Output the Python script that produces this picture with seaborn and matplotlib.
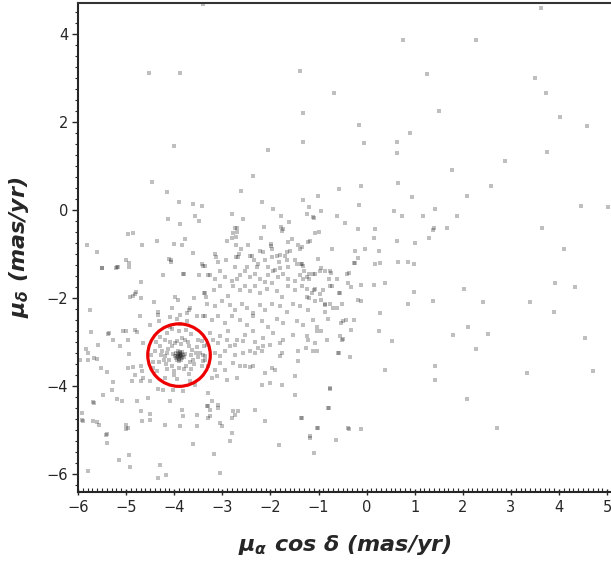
import matplotlib
matplotlib.use("Agg")
import matplotlib.pyplot as plt
from matplotlib.patches import Ellipse
from matplotlib.ticker import MultipleLocator
import seaborn as sns
import pandas as pd

# ---- data: proper motions (mas/yr) ----
# sparse field stars
sparse_ra = [-3.40,-4.52,-3.87,-1.38,-1.32,-1.32,-4.00,-2.05,-2.36,-4.46,-2.61,-4.15,-3.91,-3.61,-3.42,-2.17,-1.32,-1.01,-1.94,-1.19,-1.24,-1.11,-2.80,-2.57,-3.56,-3.48,-4.12,-3.89,-2.69,-2.13,-1.78,-1.61,-1.74,-5.82,-5.60,-4.97,-4.85,-4.66,-4.35,-4.00,-3.83,-3.77,-3.61,-2.79,-2.19,-1.99,-1.22,-0.99,-5.51,-5.18,-4.95,-4.70,-4.23,-4.06,-3.81,-3.48,-3.40,
             3.62,0.75,2.27,1.25,3.51,-0.68,3.72,1.50,4.03,4.59,-0.16,0.90,-0.05,0.63,0.63,3.74,2.87,1.77,0.65,-0.57,-0.12,2.58,2.08,0.94,-0.16,4.45,5.02,1.42,-1.09,-0.95,0.57,0.73,1.17,1.87,-0.62,-0.45,-1.07,-0.18,0.17,1.38,1.40,1.67,3.64,0.15,1.29,-1.18,0.63,1.00,-0.72,-0.24,-0.03,0.26,4.11,-0.18,-0.27,-0.24,0.17,0.28,0.65,0.86,0.98,-1.36,-0.37,-0.95,-0.86,-0.74,-0.78,-1.30,-1.20,-1.07,-1.32,-1.20,3.91,4.34,2.02,-0.76,-0.33,-0.12,0.15,0.38,
             0.98,1.38,2.41,3.39,3.89,0.86,2.10,2.52,1.79,4.53,2.27,0.52,0.28,0.26,1.42,1.42,0.38,3.33,4.70,2.08,2.72,-0.76,-0.78,-1.36,-1.03,-0.37,-0.12,-1.18,-0.64,-1.09,
             -5.80,-5.14,-4.95,-4.91,-4.33,-4.18,-4.29,-3.60,-3.17,-3.04,-2.84,-1.82,-5.39,-5.60,-5.89,-5.00,-5.80,-5.66,-5.66,-5.91,-5.41,-5.37,-5.06,-4.85,-4.79]
sparse_dec = [4.68,3.10,3.10,3.15,2.19,1.54,1.45,1.36,0.77,0.63,0.43,0.41,0.18,0.14,0.09,0.18,0.23,0.32,0.02,0.07,-0.09,-0.16,-0.09,-0.20,-0.14,-0.25,-0.20,-0.32,-0.41,-0.38,-0.14,-0.27,-0.43,-0.79,-0.95,-0.54,-0.52,-0.79,-0.70,-0.77,-0.79,-0.66,-0.97,-0.63,-0.63,-0.81,-0.72,-0.50,-1.31,-1.29,-1.20,-1.65,-1.47,-1.13,-1.45,-1.49,-1.27,
              4.59,3.85,3.85,3.08,2.99,2.65,2.65,2.24,2.10,1.90,1.92,1.74,1.52,1.54,1.29,1.31,1.11,0.90,0.61,0.48,0.54,0.54,0.32,0.29,0.11,0.09,0.07,0.02,-0.18,-0.02,-0.02,-0.14,-0.14,-0.14,-0.14,-0.29,-0.52,-0.43,-0.43,-0.45,-0.42,-0.41,-0.41,-0.63,-0.63,-0.70,-0.70,-0.75,-0.90,-0.93,-0.90,-0.93,-0.90,-1.09,-1.20,-1.20,-1.22,-1.20,-1.18,-1.18,-1.24,-1.22,-1.43,-1.33,-1.40,-1.43,-1.56,-1.40,-1.45,-1.45,-1.56,-1.56,-1.67,-1.76,-1.79,-1.72,-1.76,-1.70,-1.70,-1.67,
              -1.86,-2.08,-2.10,-2.10,-2.31,-2.13,-2.65,-2.83,-2.85,-2.90,-3.17,-2.99,-2.35,-2.76,-3.55,-3.87,-3.64,-3.71,-3.67,-4.30,-4.95,-4.07,-4.50,-4.73,-4.95,-4.98,-4.98,-5.18,-5.23,-5.52,
              -5.93,-5.68,-5.57,-5.84,-6.09,-6.02,-5.79,-5.32,-5.54,-5.97,-5.25,-5.34,-5.30,-4.82,-4.80,-4.98,-3.26,-3.37,-4.39,-4.62,-5.11,-2.81,-2.76,-1.95,-1.86]

# dense field population
dense_ra = [-1.78,-1.76,-2.73,-2.69,-2.77,-2.90,-2.71,-2.71,-2.61,-2.65,-2.67,-2.46,-3.15,-2.38,-2.21,-2.15,-1.99,-1.96,-1.80,-1.69,-1.86,-1.65,-1.59,-1.63,-1.55,-1.43,-1.38,-1.34,
            -3.13,-2.92,-3.09,-2.71,-2.42,-2.34,-2.26,-2.11,-1.96,-1.82,-1.65,-1.49,-1.34,-1.01,-3.35,-2.73,-2.48,-2.28,-2.05,-1.90,-1.80,-1.63,-1.45,-1.32,
            -3.25,-3.15,-3.04,-2.94,-2.79,-2.69,-2.63,-2.53,-2.42,-2.32,-2.21,-2.11,-2.05,-1.94,-1.84,-1.74,-1.63,-1.49,-1.38,-1.24,-1.11,-0.97,-0.76,-0.62,-0.41,
            -3.35,-3.18,-3.04,-2.88,-2.77,-2.63,-2.53,-2.42,-2.32,-2.21,-2.07,-1.96,-1.86,-1.76,-1.63,-1.49,-1.34,-1.24,-1.07,-0.91,-0.72,-0.55,-0.39,
            -3.31,-3.15,-3.00,-2.84,-2.73,-2.59,-2.48,-2.36,-2.21,-2.11,-1.96,-1.80,-1.65,-1.53,-1.38,-1.22,-1.07,-0.86,-0.70,-0.51,
            -3.40,-3.21,-3.09,-2.94,-2.79,-2.63,-2.48,-2.36,-2.17,-2.05,-1.86,-1.74,-1.45,-1.32,-1.11,-1.03,-0.80,-0.49,
            -3.25,-3.04,-2.88,-2.69,-2.53,-2.36,-2.15,-1.94,-1.74,-1.53,-1.24,-1.03,-0.82,-0.55,
            -5.01,-4.10,-4.06,-5.51,-5.20,-5.16,-4.95,-3.42,-3.79,-3.29,-4.91,-4.81,-4.70,-3.98,-3.92,-3.58,-3.38,-3.33,-5.76,-4.43,-4.04,-3.67,-4.72,-4.33,-4.33,-4.08,-3.87,-3.73,-3.69,-3.52,-3.36,-5.74,-5.35,-5.01,-4.81,-4.77,-4.50,-4.31,-4.08,-3.94,-3.87,-3.73,-4.19,-5.27,-4.97,
            -5.84,-5.59,-5.12,-4.95,-4.64,-5.95,-5.80,-5.61,-5.53,-5.39,-4.97,-4.85,-4.70,-4.66,-4.81,-4.64,-4.87,-4.70,-4.50,-5.27,-5.29,-5.48,-5.68,-5.18,-5.08,-4.77,-4.54,-4.33,-4.23,-4.02,-4.08,-3.81,-3.56,-3.29,-5.91,-5.68,-5.57,-5.01,-4.97,-4.70,-4.66,-4.50,-4.50,-4.19,-3.87,-3.83,-3.81,-3.52,-3.52,-3.29,-3.29,-5.39,
            -3.42,-3.31,-3.19,-3.09,-2.90,-2.84,-2.73,-2.57,-2.32,-2.26,-2.15,-2.01,-1.76,-1.80,-1.43,-1.43,-1.22,-1.07,-1.26,-1.11,-1.03,-0.59,-0.51,-3.46,-3.35,-3.15,-3.04,-2.94,-2.73,-2.57,-2.42,-2.32,-2.17,-3.40,-3.29,-3.15,-3.04,-2.94,-2.77,-2.63,-2.53,-2.42,-2.36,-2.11,-1.96,-1.90,-3.21,-3.11,-2.90,-2.69,-2.17,-2.01,-1.76,-1.49,-1.49,-0.76,-3.21,-3.31,-3.25,-3.09,-3.09,-2.77,-2.67,-2.73,-2.79,-2.32,-2.11,-1.80,-1.34,-0.80,-1.01,-0.39,-3.04,-3.00,-2.79,-1.18,-3.25,
            -1.09,-1.24,-1.13,-1.20,-0.97,-0.53,-0.43,-0.26,-0.33,-0.49,-0.57,-0.35,-0.95,-0.57,-0.18,-0.12,-0.62,-0.86,-0.76,-0.86,-0.95]
dense_dec = [-0.38,-0.48,-0.41,-0.50,-0.52,-0.70,-0.61,-0.79,-0.88,-1.00,-1.06,-0.79,-1.00,-1.04,-0.93,-0.95,-0.77,-0.88,-1.02,-1.04,-1.04,-0.95,-0.93,-0.72,-0.66,-0.79,-0.88,-0.84,
             -1.06,-1.15,-1.18,-1.06,-1.04,-1.15,-1.22,-1.15,-1.06,-1.18,-1.15,-1.15,-1.22,-1.11,-1.27,-1.29,-1.29,-1.29,-1.29,-1.36,-1.33,-1.29,-1.24,-1.27,
             -1.49,-1.58,-1.40,-1.52,-1.61,-1.56,-1.49,-1.40,-1.52,-1.45,-1.56,-1.63,-1.49,-1.40,-1.52,-1.45,-1.56,-1.61,-1.49,-1.52,-1.45,-1.38,-1.40,-1.56,-1.45,
             -1.90,-1.83,-1.74,-1.95,-1.74,-1.83,-1.72,-1.85,-1.72,-1.90,-1.79,-1.67,-1.85,-1.97,-1.74,-1.83,-1.74,-1.97,-1.79,-1.83,-1.72,-1.90,-1.67,
             -2.13,-2.19,-2.06,-2.17,-2.28,-2.13,-2.24,-2.35,-2.17,-2.28,-2.13,-2.19,-2.31,-2.13,-2.19,-2.28,-2.08,-2.17,-2.24,-2.13,
             -2.40,-2.51,-2.42,-2.58,-2.40,-2.51,-2.62,-2.42,-2.53,-2.65,-2.47,-2.58,-2.53,-2.62,-2.51,-2.65,-2.47,-2.53,
             -2.80,-2.87,-2.76,-2.96,-2.85,-2.76,-2.92,-2.80,-2.96,-2.85,-2.87,-2.76,-2.96,-2.87,
             -1.13,-1.11,-1.18,-1.33,-1.33,-1.29,-1.29,-1.24,-1.45,-1.47,-1.97,-1.92,-2.01,-1.99,-2.04,-2.01,-1.88,-1.97,-2.28,-2.10,-2.22,-2.24,-2.40,-2.33,-2.38,-2.44,-2.38,-2.35,-2.28,-2.42,-2.40,-2.78,-2.80,-2.76,-2.74,-2.78,-2.62,-2.53,-2.67,-2.47,-2.60,-2.53,-2.96,-2.96,-2.96,
             -3.17,-3.08,-3.10,-3.28,-3.03,-3.42,-3.42,-3.39,-3.60,-3.69,-3.60,-3.57,-3.55,-3.66,-3.75,-3.82,-3.89,-3.89,-3.89,-3.91,-4.09,-4.21,-4.37,-4.30,-4.34,-4.34,-4.28,-4.07,-4.09,-4.09,-4.34,-4.12,-3.98,-4.16,-4.77,-4.80,-4.89,-4.89,-4.95,-4.57,-4.80,-4.64,-4.77,-4.89,-4.91,-4.55,-4.68,-4.66,-4.91,-4.46,-4.73,-5.09,
             -2.99,-3.08,-2.96,-3.03,-2.96,-3.10,-3.08,-2.99,-3.01,-3.14,-3.10,-3.08,-3.26,-3.33,-3.21,-3.44,-2.96,-3.03,-3.14,-3.21,-3.21,-3.26,-2.96,-3.26,-3.33,-3.26,-3.33,-3.21,-3.30,-3.26,-3.21,-3.26,-3.21,-3.44,-3.55,-3.64,-3.48,-3.64,-3.48,-3.55,-3.55,-3.57,-3.55,-3.71,-3.60,-3.64,-3.82,-3.78,-3.87,-3.82,-3.98,-3.94,-3.98,-3.78,-4.21,-4.05,-4.34,-4.46,-4.55,-4.43,-4.50,-4.57,-4.57,-4.66,-4.73,-4.55,-4.80,-3.03,-4.73,-4.50,-4.95,-4.95,-4.84,-4.91,-5.07,-5.13,-4.68,
             -1.81,-1.79,-1.90,-2.01,-1.92,-2.56,-2.51,-2.51,-2.74,-2.94,-3.26,-3.35,-2.76,-1.88,-2.04,-2.08,-2.24,-2.31,-2.15,-2.13,-2.04]

# cluster members
cluster_ra = [-3.90,-3.88,-3.86,-3.92,-3.87,-3.93,-3.85,-3.89,-3.95,-3.84,-3.91,-3.82,-3.97,-3.88,-3.80,-3.94,-3.99,-3.86,-3.78,-3.92,-4.02,-3.83,-3.96,-3.90,
              -4.15,-4.10,-4.20,-4.12,-3.65,-3.68,-3.62,-3.70,-3.85,-3.98,-4.05,-3.75,-3.90,-4.05,-4.18,-3.60,-4.25,-3.72,-4.08,-3.55,-3.80,-4.00,-4.22,-3.58,-3.95,-4.28,-3.50,-3.66,-4.14,-3.78,-4.30,-3.52,-4.00,-3.70,-4.32,-3.84,
              -4.40,-4.45,-4.38,-4.35,-3.40,-3.42,-3.38,-3.90,-4.15,-3.65,-3.95,-4.20,-3.68,-4.48,-3.35,-4.05,-3.75,-4.30,-3.50,-4.45]
cluster_dec = [-3.30,-3.32,-3.28,-3.34,-3.35,-3.27,-3.31,-3.26,-3.31,-3.36,-3.38,-3.29,-3.25,-3.22,-3.34,-3.40,-3.33,-3.41,-3.27,-3.20,-3.28,-3.23,-3.37,-3.43,
               -3.25,-3.40,-3.32,-3.15,-3.30,-3.45,-3.18,-3.10,-3.05,-3.02,-3.10,-3.55,-3.60,-3.55,-3.50,-3.40,-3.20,-3.00,-3.00,-3.25,-3.62,-3.65,-3.42,-3.50,-2.98,-3.30,-3.35,-3.62,-3.62,-2.95,-3.10,-3.12,-3.75,-3.72,-3.45,-2.90,
               -3.20,-3.45,-3.00,-3.65,-3.30,-3.55,-3.10,-2.75,-2.80,-2.82,-3.85,-3.82,-3.88,-3.30,-3.42,-2.70,-2.72,-2.88,-2.95,-3.60]

circle_center = (-3.9, -3.3)
circle_w, circle_h = 1.30, 1.42

x_ticks = [-6, -5, -4, -3, -2, -1, 0, 1, 2, 3, 4, 5]
y_ticks = [-6, -4, -2, 0, 2, 4]

df = pd.DataFrame({
    "ra": sparse_ra + dense_ra + cluster_ra,
    "dec": sparse_dec + dense_dec + cluster_dec,
})

sns.set_style("ticks")
plt.rcParams["font.family"] = ["DejaVu Sans"]
plt.rcParams["mathtext.fontset"] = "custom"
plt.rcParams["mathtext.it"] = "DejaVu Sans:italic:bold"
plt.rcParams["mathtext.rm"] = "DejaVu Sans:italic:bold"

fig = plt.figure(figsize=(6.11, 5.71), dpi=100)
ax = fig.add_axes([78/611, 79/571, 533/611, 489/571])

sns.scatterplot(data=df, x="ra", y="dec", marker="s", s=9, color="black",
                alpha=0.25, linewidth=0, ax=ax, legend=False)

ax.add_patch(Ellipse(circle_center, circle_w, circle_h, facecolor="none",
                     edgecolor="#ee0000", linewidth=2.3, zorder=5))

ax.set_xlim(-6, 5.08)
ax.set_ylim(-6.41, 4.70)
ax.set_xticks(x_ticks)
ax.set_yticks(y_ticks)
ax.xaxis.set_minor_locator(MultipleLocator(0.1))
ax.yaxis.set_minor_locator(MultipleLocator(0.25))
ax.tick_params(axis="x", which="major", direction="inout", length=5, width=1, labelsize=10.5, pad=3)
ax.tick_params(axis="x", which="minor", direction="in", length=3, width=0.8)
ax.tick_params(axis="y", which="major", direction="out", length=4, width=1, labelsize=10.5, pad=3)
ax.tick_params(axis="y", which="minor", direction="out", length=2.5, width=0.8)

ax.spines["right"].set_visible(False)
ax.spines["top"].set_color("#333333")
ax.spines["top"].set_linewidth(1.5)
ax.spines["left"].set_linewidth(1.5)
ax.spines["bottom"].set_linewidth(1.5)

ax.set_xlabel(r"$\mu_{\alpha}$ cos $\delta$ (mas/yr)", fontsize=16, fontweight="bold",
              fontstyle="italic", labelpad=13)
ax.set_ylabel(r"$\mu_{\delta}$ (mas/yr)", fontsize=16, fontweight="bold",
              fontstyle="italic", labelpad=11)

fig.savefig("out.png", dpi=100)
